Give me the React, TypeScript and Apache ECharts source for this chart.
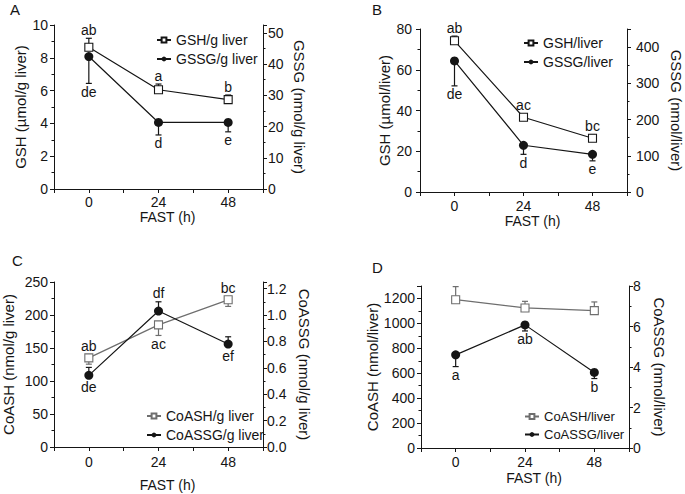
import { useEffect, useRef } from 'react';
import * as echarts from 'echarts';

const hours = [0, 24, 48];

// Panel A
const gshPerG = [8.64, 6.05, 5.45];
const gshPerGErr = [0.55, 0.35, 0.28];
const gssgPerG = [42.4, 21.3, 21.3];
const gssgPerGErr = [8.6, 4.0, 3.0];
const lettersGshPerG = ['ab', 'a', 'b'];
const lettersGssgPerG = ['de', 'd', 'e'];

// Panel B
const gshLiver = [74.2, 36.7, 26.4];
const gshLiverErr = [2.3, 0, 1.8];
const gssgLiver = [362, 129, 104];
const gssgLiverErr = [69, 25, 18];
const lettersGshLiver = ['ab', 'ac', 'bc'];
const lettersGssgLiver = ['de', 'd', 'e'];

// Panel C
const coashPerG = [135, 185, 223];
const coashPerGErr = [9.5, 16, 10];
const coassgPerG = [0.543, 1.03, 0.78];
const coassgPerGErr = [0.06, 0.07, 0.055];
const lettersCoashPerG = ['ab', 'ac', 'bc'];
const sidesCoashPerG = [1, -1, 1];
const lettersCoassgPerG = ['de', 'df', 'ef'];
const sidesCoassgPerG = [-1, 1, -1];

// Panel D
const coashLiver = [1190, 1124, 1102];
const coashLiverErr = [105, 53, 70];
const coassgLiver = [4.6, 6.08, 3.73];
const coassgLiverErr = [0.58, 0.3, 0.3];
const lettersCoassgLiver = ['a', 'ab', 'b'];

const FONT = '"Liberation Sans", Arial, Helvetica, sans-serif';
const BLACK = '#151515';
const GREY = '#6e6e6e';

function lineSeries(name: string, xi: number, yi: number, vals: number[], symbol: string, color: string) {
  const isRect = symbol === 'rect';
  return {
    name,
    type: 'line',
    xAxisIndex: xi,
    yAxisIndex: yi,
    data: hours.map((h, i) => [h, vals[i]]),
    symbol,
    symbolSize: isRect ? 8 : 9,
    showAllSymbol: true,
    lineStyle: { color, width: 1.2 },
    itemStyle: isRect
      ? { color: '#ffffff', borderColor: color, borderWidth: 1.1 }
      : { color: BLACK, borderColor: BLACK, borderWidth: 0 },
    z: 4,
  };
}

function errSeries(
  xi: number,
  yi: number,
  vals: number[],
  errs: number[],
  dir: number,
  letters: string[],
  sides: number[],
  color: string
) {
  return {
    type: 'custom',
    xAxisIndex: xi,
    yAxisIndex: yi,
    silent: true,
    z: 2,
    data: hours.map((h, i) => [h, vals[i], errs[i], i]),
    renderItem: (_params: any, api: any) => {
      const x = api.value(0);
      const y = api.value(1);
      const e = api.value(2);
      const idx = api.value(3);
      const p = api.coord([x, y]);
      const q = api.coord([x, y + dir * e]);
      const children: any[] = [];
      if (e > 0) {
        children.push({
          type: 'line',
          shape: { x1: p[0], y1: p[1], x2: q[0], y2: q[1] },
          style: { stroke: color, lineWidth: 1.2 },
        });
        children.push({
          type: 'line',
          shape: { x1: q[0] - 3, y1: q[1], x2: q[0] + 3, y2: q[1] },
          style: { stroke: color, lineWidth: 1.2 },
        });
      }
      const letter = letters[idx];
      if (letter) {
        const side = sides[idx];
        const errPx = Math.abs(q[1] - p[1]);
        const off = side === dir ? Math.max(errPx + 8.5, 12) : 12;
        children.push({
          type: 'text',
          x: p[0],
          y: p[1] - side * off,
          style: {
            text: letter,
            fill: BLACK,
            fontSize: 14,
            fontFamily: FONT,
            align: 'center',
            verticalAlign: 'middle',
          },
        });
      }
      return { type: 'group', children };
    },
  };
}

function xAxis(gi: number, margin: number, nameGap: number) {
  return {
    type: 'value',
    gridIndex: gi,
    min: -12,
    max: 60,
    interval: 12,
    name: 'FAST (h)',
    nameLocation: 'middle',
    nameGap,
    nameTextStyle: { fontSize: 14, color: BLACK, fontFamily: FONT, padding: [0, 0, 0, 18] },
    axisLine: { onZero: false, lineStyle: { color: BLACK, width: 1 } },
    axisTick: { show: true, length: 4, lineStyle: { color: BLACK } },
    axisLabel: {
      margin,
      fontSize: 14,
      color: BLACK,
      fontFamily: FONT,
      formatter: (v: number) => (hours.includes(v) ? String(v) : ''),
    },
    splitLine: { show: false },
  };
}

function yAxis(
  gi: number,
  pos: 'left' | 'right',
  min: number,
  max: number,
  interval: number,
  name: string,
  nameGap: number,
  margin: number,
  decimals = 0
) {
  return {
    type: 'value',
    gridIndex: gi,
    position: pos,
    min,
    max,
    interval,
    name,
    nameLocation: 'middle',
    nameGap,
    nameRotate: pos === 'left' ? 90 : -90,
    nameTextStyle: { fontSize: 15, color: BLACK, fontFamily: FONT },
    axisLine: { show: true, onZero: false, lineStyle: { color: BLACK, width: 1 } },
    axisTick: { show: true, length: 4, lineStyle: { color: BLACK } },
    minorTick: { show: true, splitNumber: 2, length: 2.5, lineStyle: { color: BLACK } },
    axisLabel: {
      margin,
      fontSize: 14,
      color: BLACK,
      fontFamily: FONT,
      formatter: (v: number) => {
        const k = Math.round(v / interval);
        if (Math.abs(k * interval - v) > 1e-6) return '';
        return (k * interval).toFixed(decimals);
      },
    },
    splitLine: { show: false },
    minorSplitLine: { show: false },
  };
}

function legend(names: string[], left: number, top: number, fontSize = 14) {
  return {
    data: names,
    orient: 'vertical',
    left,
    top,
    itemWidth: 14,
    itemHeight: 6,
    itemGap: 5,
    selectedMode: false,
    textStyle: { fontSize, color: BLACK, fontFamily: FONT },
  };
}

export default function App() {
  const ref = useRef<HTMLDivElement>(null);
  useEffect(() => {
    if (!ref.current) return;
    const chart = echarts.init(ref.current, undefined, { renderer: 'svg' });
    const option: any = {
      animation: false,
      backgroundColor: '#ffffff',
      textStyle: { fontFamily: FONT },
      grid: [
        { left: 54, top: 25, width: 209, height: 164 },
        { left: 420, top: 29, width: 207, height: 163 },
        { left: 54, top: 282, width: 209, height: 165 },
        { left: 421, top: 286, width: 208, height: 162 },
      ],
      xAxis: [xAxis(0, 6, 20), xAxis(1, 7, 22), xAxis(2, 8, 31), xAxis(3, 7, 23)],
      yAxis: [
        yAxis(0, 'left', 0, 10, 2, 'GSH (µmol/g liver)', 26, 6),
        yAxis(0, 'right', 0, 52.5, 10, 'GSSG (nmol/g liver)', 29, 5),
        yAxis(1, 'left', 0, 80, 20, 'GSH (µmol/liver)', 28, 8),
        yAxis(1, 'right', 0, 450, 100, 'GSSG (nmol/liver)', 42, 9),
        yAxis(2, 'left', 0, 250, 50, 'CoASH (nmol/g liver)', 38, 6),
        yAxis(2, 'right', 0, 1.25, 0.2, 'CoASSG (nmol/g liver)', 34, 4, 1),
        yAxis(3, 'left', 0, 1300, 200, 'CoASH (nmol/liver)', 41, 6),
        yAxis(3, 'right', 0, 8, 2, 'CoASSG (nmol/liver)', 23, 4),
      ],
      legend: [
        legend(['GSH/g liver', 'GSSG/g liver'], 151, 28),
        legend(['GSH/liver', 'GSSG/liver'], 518, 31),
        legend(['CoASH/g liver', 'CoASSG/g liver'], 141, 404),
        legend(['CoASH/liver', 'CoASSG/liver'], 519, 405, 13),
      ],
      graphic: [
        { type: 'text', left: 10, top: 2, style: { text: 'A', fontSize: 15, fill: BLACK, fontFamily: FONT } },
        { type: 'text', left: 372, top: 2, style: { text: 'B', fontSize: 15, fill: BLACK, fontFamily: FONT } },
        { type: 'text', left: 12, top: 253, style: { text: 'C', fontSize: 15, fill: BLACK, fontFamily: FONT } },
        { type: 'text', left: 372, top: 260, style: { text: 'D', fontSize: 15, fill: BLACK, fontFamily: FONT } },
      ],
      series: [
        errSeries(0, 0, gshPerG, gshPerGErr, 1, lettersGshPerG, [1, 1, 1], BLACK),
        errSeries(0, 1, gssgPerG, gssgPerGErr, -1, lettersGssgPerG, [-1, -1, -1], BLACK),
        lineSeries('GSH/g liver', 0, 0, gshPerG, 'rect', BLACK),
        lineSeries('GSSG/g liver', 0, 1, gssgPerG, 'circle', BLACK),

        errSeries(1, 2, gshLiver, gshLiverErr, 1, lettersGshLiver, [1, 1, 1], BLACK),
        errSeries(1, 3, gssgLiver, gssgLiverErr, -1, lettersGssgLiver, [-1, -1, -1], BLACK),
        lineSeries('GSH/liver', 1, 2, gshLiver, 'rect', BLACK),
        lineSeries('GSSG/liver', 1, 3, gssgLiver, 'circle', BLACK),

        errSeries(2, 4, coashPerG, coashPerGErr, -1, lettersCoashPerG, sidesCoashPerG, GREY),
        errSeries(2, 5, coassgPerG, coassgPerGErr, 1, lettersCoassgPerG, sidesCoassgPerG, BLACK),
        lineSeries('CoASH/g liver', 2, 4, coashPerG, 'rect', GREY),
        lineSeries('CoASSG/g liver', 2, 5, coassgPerG, 'circle', BLACK),

        errSeries(3, 6, coashLiver, coashLiverErr, 1, ['', '', ''], [1, 1, 1], GREY),
        errSeries(3, 7, coassgLiver, coassgLiverErr, -1, lettersCoassgLiver, [-1, -1, -1], BLACK),
        lineSeries('CoASH/liver', 3, 6, coashLiver, 'rect', GREY),
        lineSeries('CoASSG/liver', 3, 7, coassgLiver, 'circle', BLACK),
      ],
    };
    chart.setOption(option);
    return () => chart.dispose();
  }, []);
  return (
    <div
      ref={ref}
      style={{ position: 'fixed', left: 0, top: 0, width: 685, height: 494, background: '#fff' }}
    />
  );
}
